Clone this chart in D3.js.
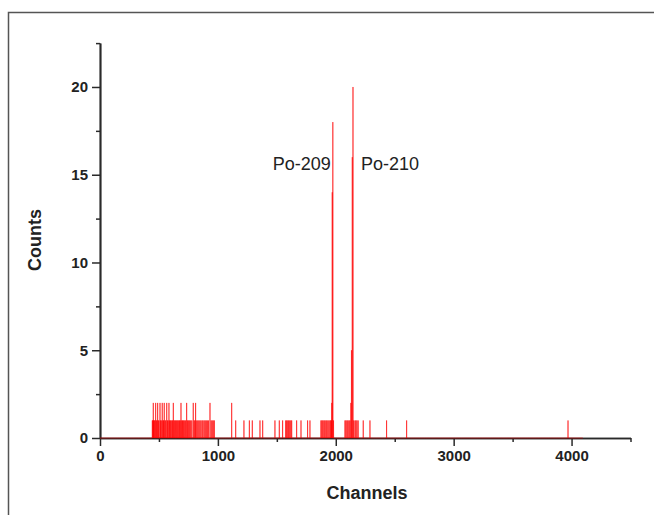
<!DOCTYPE html>
<html><head><meta charset="utf-8">
<script src="https://cdn.jsdelivr.net/npm/d3@7"></script>
<style>body{margin:0;background:#fff}svg{display:block}</style>
</head><body><svg id="c" width="654" height="515"></svg>
<script>
// ---- data ----
const nChannels = 4096;
const channels = [
  444,449,452,455,461,466,472,478,483,489,495,500,509,514,520,528,534,539,545,551,557,566,572,578,585,590,597,603,610,616,622,628,634,641,648,655,661,668,674,681,687,693,700,706,712,719,726,735,741,748,755,762,770,779,791,799,806,811,820,829,838,847,856,866,874,884,893,902,911,920,933,943,952,961,970,
  1117,1151,1221,1267,1292,1357,1380,1484,1521,1549,1575,1583,1592,1600,1609,1618,1626,1668,1705,1761,1781,
  1874,1882,1890,1899,1907,1916,1924,1933,1942,1951,1958,1962,1966,1970,1975,1981,
  2078,2086,2095,2103,2112,2120,2128,2133,2140,2146,2152,2163,2171,2180,2190,2233,2290,2431,2601,3970
];
const counts = [
  1,1,2,1,1,1,2,1,1,2,1,1,2,1,1,2,1,1,2,1,1,2,1,1,2,1,1,1,1,1,2,1,1,1,1,1,1,1,1,1,2,1,1,1,1,1,1,2,1,1,1,1,1,1,2,1,1,2,1,1,1,1,1,1,1,1,1,1,1,1,2,1,1,1,1,
  2,1,1,1,1,1,1,1,1,1,1,1,1,1,1,1,1,1,1,1,1,
  1,1,1,1,1,1,1,1,1,1,1,1,2,14,18,1,
  1,1,1,1,1,1,2,5,16,20,1,1,1,1,1,1,1,1,1,1
];
const xMajorTicks = [0,1000,2000,3000,4000];
const xMinorTicks = [500,1500,2500,3500,4500];
const yMajorTicks = [0,5,10,15,20];
const yMinorTicks = [2.5,7.5,12.5,17.5,22.5];
const peakNames = ["Po-209","Po-210"];
const peakChannels = [1975,2146];
const xTitle = "Channels", yTitle = "Counts";

// ---- chart ----
const svg = d3.select("#c");
const x = d3.scaleLinear().domain([0,4500]).range([100,630.5]);
const y = d3.scaleLinear().domain([0,22.5]).range([438,43.1]);

svg.append("rect").attr("x",8.5).attr("y",12.5).attr("width",700).attr("height",600)
  .attr("fill","none").attr("stroke","#555").attr("stroke-width",1.5);

const font = "'Liberation Sans', Arial, sans-serif";
const axisColor = "#2a2a2a";
const fmt = d3.format("d");

function styleAxis(g){
  g.selectAll("path.domain").attr("stroke",axisColor).attr("stroke-width",1.7);
  g.selectAll(".tick line").attr("stroke",axisColor).attr("stroke-width",1.5);
  g.selectAll(".tick text").attr("fill","#222").attr("font-family",font)
    .attr("font-size",15).attr("font-weight","bold");
}
const gx = svg.append("g").attr("transform","translate(0,438)");
gx.append("g").call(d3.axisBottom(x).tickValues(xMinorTicks).tickSize(4).tickFormat("").tickSizeOuter(0)).call(styleAxis);
gx.append("g").call(d3.axisBottom(x).tickValues(xMajorTicks).tickSize(8).tickPadding(4).tickFormat(fmt).tickSizeOuter(0)).call(styleAxis);

const gy = svg.append("g").attr("transform","translate(100,0)");
gy.append("g").call(d3.axisLeft(y).tickValues(yMinorTicks).tickSize(4).tickFormat("").tickSizeOuter(0)).call(styleAxis);
gy.append("g").call(d3.axisLeft(y).tickValues(yMajorTicks).tickSize(8).tickPadding(4).tickFormat(fmt).tickSizeOuter(0)).call(styleAxis);

// spectrum table
const spectrum = d3.range(0, nChannels+1).map(c => ({ch:c, n:0}));
channels.forEach((c,i) => { spectrum[c].n = counts[i]; });

const line = d3.line().x(d => x(d.ch)).y(d => y(d.n));
svg.append("path").datum(spectrum).attr("d",line)
  .attr("fill","none").attr("stroke","#ff0000").attr("stroke-opacity",0.65)
  .attr("stroke-width",0.9);

// peak labels
svg.append("text").attr("x",x(peakChannels[0])-2).attr("y",y(15.25))
  .attr("text-anchor","end").attr("font-family",font).attr("font-size",18).attr("fill","#222")
  .text(peakNames[0]);
svg.append("text").attr("x",x(peakChannels[1])+8).attr("y",y(15.25))
  .attr("text-anchor","start").attr("font-family",font).attr("font-size",18).attr("fill","#222")
  .text(peakNames[1]);

// titles
svg.append("text").attr("x",367).attr("y",499).attr("text-anchor","middle")
  .attr("font-family",font).attr("font-size",18).attr("font-weight","bold").attr("fill","#222")
  .text(xTitle);
svg.append("text").attr("transform","translate(41,240) rotate(-90)").attr("text-anchor","middle")
  .attr("font-family",font).attr("font-size",18).attr("font-weight","bold").attr("fill","#222")
  .text(yTitle);
</script></body></html>
